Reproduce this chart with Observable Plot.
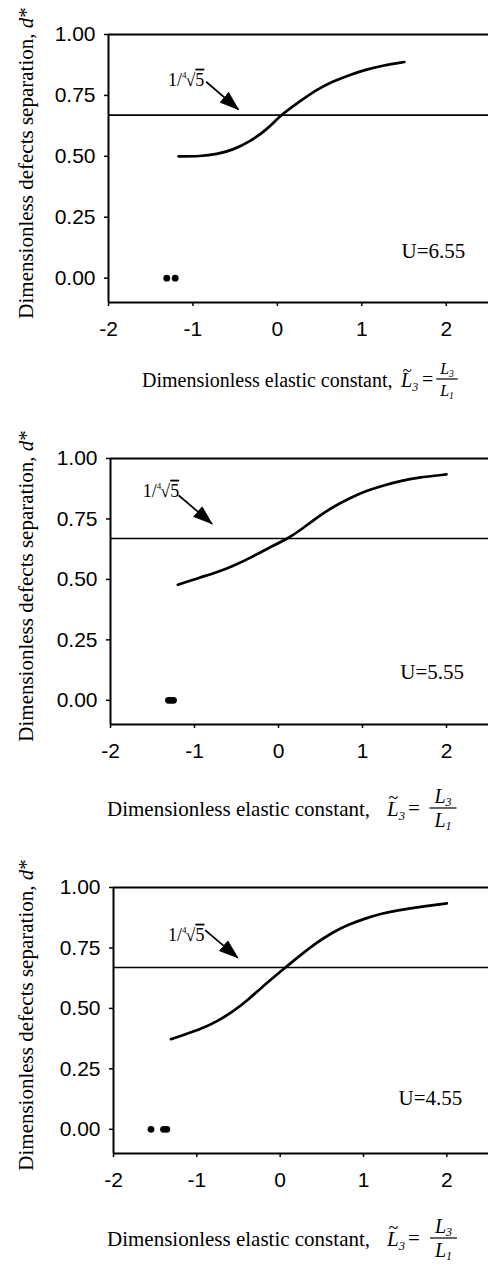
<!DOCTYPE html>
<html><head><meta charset="utf-8">
<script src="https://cdn.jsdelivr.net/npm/d3@7"></script>
<script src="https://cdn.jsdelivr.net/npm/@observablehq/plot@0.6"></script>
<style>
html,body{margin:0;padding:0;background:#fff;}
#chart{position:relative;width:488px;height:1271px;overflow:hidden;background:#fff;}
#overlay{position:absolute;left:0;top:0;z-index:2;pointer-events:none;}
</style></head><body><div id="chart"></div>
<script>
// ---- data ----
const xTicks = [-2, -1, 0, 1, 2];
const yTicks = [0, 0.25, 0.5, 0.75, 1];
const refValue = [0.669];            // 1/ fourth-root(5)
const uLabels = ["U=6.55", "U=5.55", "U=4.55"];
const uLabelX = [1.47, 1.45, 1.42];
const uLabelY = [0.083, 0.088, 0.10];
const rootLabelX = [-1.29, -1.61, -1.34];
const rootLabelY = [0.788, 0.84, 0.778];
const arrowX1 = [-0.844, -1.19, -0.90];
const arrowY1 = [0.806, 0.848, 0.824];
const arrowX2 = [-0.46, -0.79, -0.507];
const arrowY2 = [0.692, 0.73, 0.709];

// U = 6.55
const curveX1 = [-1.17, -0.915, -0.718, -0.52, -0.323, -0.126, 0.032, 0.268, 0.465, 0.662, 0.86, 1.057, 1.254, 1.503];
const curveY1 = [0.500, 0.500, 0.508, 0.527, 0.561, 0.609, 0.667, 0.726, 0.774, 0.808, 0.835, 0.857, 0.873, 0.887];
const dotsX1 = [-1.31, -1.21];
// U = 5.55
const curveX2 = [-1.198, -0.929, -0.73, -0.532, -0.333, -0.135, 0.123, 0.262, 0.46, 0.659, 0.857, 1.056, 1.254, 1.452, 1.65, 2.0];
const curveY2 = [0.478, 0.509, 0.529, 0.557, 0.589, 0.627, 0.671, 0.704, 0.757, 0.802, 0.838, 0.868, 0.889, 0.907, 0.921, 0.934];
const dotsX2 = [-1.31, -1.28, -1.25];
// U = 4.55
const curveX3 = [-1.31, -1.16, -0.962, -0.764, -0.565, -0.367, -0.169, 0.069, 0.227, 0.426, 0.624, 0.822, 1.02, 1.218, 1.416, 1.614, 2.0];
const curveY3 = [0.373, 0.39, 0.413, 0.445, 0.486, 0.541, 0.603, 0.671, 0.716, 0.769, 0.814, 0.847, 0.872, 0.893, 0.906, 0.917, 0.934];
const dotsX3 = [-1.55, -1.40, -1.36];

const xTitleText = "Dimensionless elastic constant,";
const yTitleText = "Dimensionless defects separation, ";

// ---- layout ----
const SERIF = '"Liberation Serif","Times New Roman",serif';
const SANS = '"Liberation Sans",Arial,sans-serif';
const panels = [
  {top: 0,   mt: 34, ph: 268, ml: 108, cx: curveX1, cy: curveY1, dx: dotsX1,
   xt: {x: 142, base: 387, fs: 20, lx: 401, ex: 422, fx: 447, ffs: 16}},
  {top: 420, mt: 38, ph: 266, ml: 110, cx: curveX2, cy: curveY2, dx: dotsX2,
   xt: {x: 107, base: 816, fs: 21, lx: 387, ex: 408, fx: 443, ffs: 20}},
  {top: 845, mt: 42, ph: 266, ml: 113, cx: curveX3, cy: curveY3, dx: dotsX3,
   xt: {x: 107, base: 1246, fs: 21, lx: 387, ex: 408, fx: 443.5, ffs: 20}}
];

const chart = document.getElementById("chart");
const MB = 50;

panels.forEach((p, i) => {
  const curve = p.cx.map((x, k) => ({x, y: p.cy[k]}));
  const dots = p.dx.map(x => ({x, y: 0}));
  const plot = Plot.plot({
    width: 488,
    height: p.mt + p.ph + MB,
    marginTop: p.mt, marginBottom: MB, marginLeft: p.ml, marginRight: 0,
    style: {fontFamily: SANS, fontSize: "21px", color: "#000", background: "#fff", overflow: "visible"},
    x: {domain: [-2, 2.5]},
    y: {domain: [-0.1, 1]},
    marks: [
      Plot.axisX(xTicks, {tickSize: 4, tickPadding: 15, tickFormat: d => String(d), label: null, strokeWidth: 1.5, fontSize: 21}),
      Plot.axisY(yTicks, {tickSize: 4, tickPadding: 9, tickFormat: d => d.toFixed(2), label: null, strokeWidth: 1.5, fontSize: 21}),
      Plot.ruleX([-2], {strokeWidth: 2}),
      Plot.ruleY([-0.1, 1], {strokeWidth: 2}),
      Plot.ruleY(refValue, {strokeWidth: 1.6}),
      Plot.line(curve, {x: "x", y: "y", curve: "basis", strokeWidth: 2.7}),
      Plot.dot(dots, {x: "x", y: "y", r: 3.4, fill: "#000", stroke: null}),
      Plot.text([uLabels[i]], {x: uLabelX[i], y: uLabelY[i], text: d => d, textAnchor: "start", lineAnchor: "bottom",
        fontFamily: SERIF, fontSize: 21, fill: "#000"}),
      Plot.link([0], {x1: arrowX1[i], y1: arrowY1[i], x2: arrowX2[i], y2: arrowY2[i], strokeWidth: 1.7, stroke: "#000"})
    ]
  });
  plot.style.position = "absolute";
  plot.style.top = p.top + "px";
  plot.style.left = "0px";

  const svg = d3.select(plot);
  const sx = plot.scale("x"), sy = plot.scale("y");
  // arrow head
  const mid = "ah" + i;
  svg.append("defs").append("marker")
    .attr("id", mid).attr("viewBox", "0 -8 20 16").attr("refX", 19).attr("refY", 0)
    .attr("markerWidth", 20).attr("markerHeight", 16).attr("markerUnits", "userSpaceOnUse").attr("orient", "auto")
    .append("path").attr("d", "M0,-7L20,0L0,7Z").attr("fill", "#000");
  svg.selectAll("g[aria-label='link'] path, g[aria-label='link'] line").attr("marker-end", `url(#${mid})`);

  // 1/ fourth-root 5 label
  const t = svg.append("text")
    .attr("x", sx.apply(rootLabelX[i])).attr("y", sy.apply(rootLabelY[i]))
    .attr("text-anchor", "start")
    .attr("font-family", SERIF).attr("font-size", 18).attr("fill", "#000");
  t.append("tspan").text("1/");
  t.append("tspan").attr("font-size", 9).attr("dy", -8).text("4");
  t.append("tspan").attr("dy", 8).attr("dx", -1).text("\u221A");
  t.append("tspan").attr("text-decoration", "overline").text("5");

  // y title
  const cy = (p.mt + p.mt + p.ph) / 2 - 5;
  const yt = svg.append("text")
    .attr("transform", `translate(33,${cy}) rotate(-90)`)
    .attr("text-anchor", "middle")
    .attr("font-family", SERIF).attr("font-size", 21).attr("fill", "#000");
  yt.append("tspan").text(yTitleText);
  yt.append("tspan").attr("font-style", "italic").text("d");
  yt.append("tspan").text("*");

  chart.appendChild(plot);
});

// x titles (with fraction), drawn in an overlay svg
const ov = d3.select(chart).append("svg").attr("id", "overlay")
  .attr("width", 488).attr("height", 1271)
  .attr("font-family", SERIF).attr("fill", "#000");
panels.forEach(p => {
  const q = p.xt;
  const g = ov.append("g");
  g.append("text").attr("x", q.x).attr("y", q.base).attr("font-size", q.fs).text(xTitleText);
  // L~_3
  const lt = g.append("text").attr("x", q.lx).attr("y", q.base).attr("font-size", q.fs);
  lt.append("tspan").attr("font-style", "italic").text("L");
  lt.append("tspan").attr("font-style", "italic").attr("font-size", q.fs * 0.6).attr("dy", 4).text("3");
  g.append("text").attr("x", q.lx + 1.5).attr("y", q.base - q.fs * 0.55).attr("font-size", q.fs * 0.85).text("~");
  // =
  const bar = q.base - 8;
  g.append("text").attr("x", q.ex).attr("y", q.base - 1).attr("font-size", q.fs).text("=");
  // fraction
  const fw = q.ffs * 1.35;
  g.append("line").attr("x1", q.fx - fw / 2).attr("x2", q.fx + fw / 2).attr("y1", bar).attr("y2", bar)
    .attr("stroke", "#000").attr("stroke-width", 1.2);
  const num = g.append("text").attr("x", q.fx).attr("y", bar - 5).attr("font-size", q.ffs).attr("text-anchor", "middle").attr("font-style", "italic");
  num.append("tspan").text("L");
  num.append("tspan").attr("font-size", q.ffs * 0.6).attr("dy", 3).text("3");
  const den = g.append("text").attr("x", q.fx).attr("y", bar + q.ffs * 0.66 + 6).attr("font-size", q.ffs).attr("text-anchor", "middle").attr("font-style", "italic");
  den.append("tspan").text("L");
  den.append("tspan").attr("font-size", q.ffs * 0.6).attr("dy", 3).text("1");
});
</script>
</body></html>
